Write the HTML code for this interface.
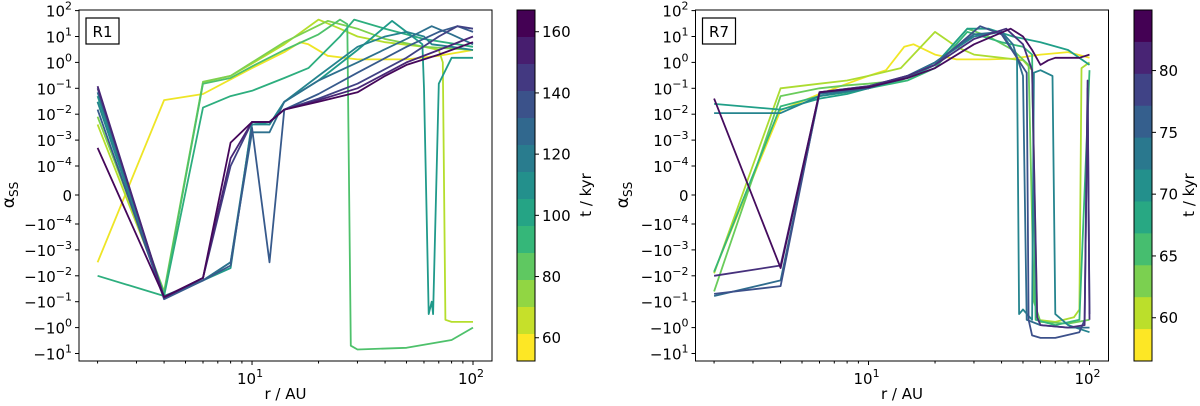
<!DOCTYPE html>
<html><head><meta charset="utf-8"><style>
body{margin:0;background:#fff}
svg{display:block;font-family:"DejaVu Sans","Liberation Sans",sans-serif}
</style></head><body>
<svg id="fig" width="1200" height="406" viewBox="0 0 1200 406"></svg>
<script>
// ---- data ----
const leftTimes = [55,65,75,85,95,105,115,125,135,145,155,165];
const leftR = [
 [2,4,6,10,14,16.5,18,22,30,50,70,100],
 [2,4,6,8,10,14,20,25,30,40,60,70,73,75,80,100],
 [2,4,6,8,10,14,22,30,40,60,100],
 [2,4,6,8,10,14,20,25,27,28,30,50,80,100],
 [2,4,6,8,10,14,18,25,29,40,60,100],
 [2,4,6,8,10,12,14,20,30,43,50,59,60,63,65,66,70,80,100],
 [2,4,6,8,10,12,14,20,30,40,50,60,65,80,100],
 [2,4,6,8,10,12,14,20,30,50,65,80,100],
 [2,4,6,8,10,12,14,20,30,50,70,85,100],
 [2,4,6,8,10,12,14,20,30,50,70,85,100],
 [2,4,6,8,10,12,14,20,30,50,70,100],
 [2,4,6,8,10,12,14,20,30,40,50,70,100]
];
const leftV = [
 [-3e-3,0.035,0.06,0.6,2.5,6,5,1.8,1.3,1.3,1.8,3],
 [4e-3,-0.05,0.17,0.3,0.9,5,45,20,10,6,4,3,1,-0.5,-0.6,-0.6],
 [8e-3,-0.04,0.18,0.3,1,6,40,20,8,4,3],
 [0.03,-0.05,0.15,0.25,0.7,3,12,45,30,-5,-7,-6,-3,-1],
 [-0.01,-0.06,0.018,0.05,0.08,0.25,0.6,10,45,20,8,4],
 [0.05,-0.06,-0.015,-5e-3,5e-3,4e-3,0.03,0.2,3,40,15,5,0.1,-0.3,-0.1,-0.3,0.15,1.5,1.5],
 [0.03,-0.07,-0.015,-3e-3,4e-3,4e-3,0.03,0.3,4,10,15,10,5,4,3],
 [0.07,-0.07,-0.015,-3e-3,2e-3,2e-3,0.03,0.2,1,8,25,12,5],
 [0.015,-0.08,-0.015,-4e-3,3e-3,-3e-3,0.015,0.06,0.4,4,15,25,15],
 [0.1,-0.07,-0.012,1e-4,5e-3,5e-3,0.015,0.04,0.15,1.5,10,25,20],
 [0.12,-0.07,-0.012,2e-4,5e-3,5e-3,0.015,0.035,0.1,1,3,10],
 [5e-4,-0.065,-0.012,8e-4,5e-3,5e-3,0.015,0.03,0.07,0.3,0.8,2,6]
];
const rightTimes = [57,60,63,66,69,72,75,78,81,84];
const rightR = [
 [2,4,6,8,10,12,14.5,16,20,25,35,45,60,80,100],
 [2,4,6,8,10,14,20,25,30,40,50,55,58,70,85,90,92,100],
 [2,4,6,8,10,14,20,28,35,45,53,56,60,80,100],
 [2,4,6,8,10,15,20,28,40,50,55,57,70,90,100],
 [2,4,6,8,10,15,20,28,35,45,60,80,100],
 [2,4,6,10,15,20,30,40,47,48,50,55,56,60,68,70,80,100],
 [2,4,6,10,15,20,30,40,45,50,52,60,80,100],
 [2,4,6,10,15,20,32,40,52,53,55,60,70,90,95,98,100],
 [2,4,6,10,15,20,30,42,50,55,58,60,80,95,98,100],
 [2,4,6,10,15,20,30,44,50,55,60,65,70,80,90,100]
];
const rightV = [
 [-7e-3,0.014,0.06,0.15,0.3,0.5,4,5,2,1.3,1.3,1.4,2,2.5,1.5],
 [-8e-3,0.1,0.15,0.2,0.3,0.6,15,4,2,1.5,1.2,0.5,-0.5,-0.6,-0.4,-0.2,0.6,1],
 [-0.04,0.05,0.1,0.13,0.15,0.2,0.8,20,10,3,0.8,-0.1,-0.6,-0.7,-0.5],
 [-7e-3,0.02,0.05,0.07,0.1,0.2,0.6,15,6,4,2,-0.5,-0.8,-0.5,0.5],
 [0.025,0.015,0.04,0.06,0.1,0.25,0.8,20,20,10,6,3,0.8],
 [0.011,0.011,0.05,0.1,0.3,1,10,15,1.5,-0.3,-0.2,-0.5,0.4,0.5,0.3,-0.3,-0.8,-1.5],
 [-0.06,-0.015,0.06,0.1,0.3,1,12,15,5,0.3,-0.5,-0.8,-1,-1],
 [-0.05,-0.025,0.07,0.12,0.3,0.8,25,12,0.4,-0.5,-2,-2.5,-2.5,-1.5,-0.5,0.1,-0.3],
 [-0.01,-4e-3,0.07,0.12,0.3,0.8,8,20,5,0.5,-0.4,-0.8,-1,-0.8,0.2,-0.5],
 [0.04,-5e-3,0.07,0.11,0.25,0.6,5,20,10,3,0.8,1.2,1.5,1.5,1.5,2]
];
const yTickVals = [100,10,1,0.1,0.01,1e-3,1e-4,0,-1e-4,-1e-3,-1e-2,-0.1,-1,-10];
const yTickExp = ["2","1","0","−1","−2","−3","−4","","−4","−3","−2","−1","0","1"];
const leftCbTicks = [60,80,100,120,140,160];
const rightCbTicks = [60,65,70,75,80];

// ---- helpers ----
const NS="http://www.w3.org/2000/svg";
const svg=document.getElementById('fig');
function mk(tag,attrs,parent){const e=document.createElementNS(NS,tag);for(const k in attrs)e.setAttribute(k,attrs[k]);(parent||svg).appendChild(e);return e;}
const TOP=10,BOT=361;
function yScale(v){const a=Math.abs(v);let d=a<=1e-4?a/1e-4*29:29+(Math.log10(a)+4)*25.9;return 195-Math.sign(v)*d;}
const VIR=[[68,1,84],[72,40,120],[62,74,137],[49,104,142],[38,130,142],[31,158,137],[53,183,121],[109,205,89],[180,222,44],[253,231,37]];
function viridis(t){t=Math.max(0,Math.min(1,t));const p=t*(VIR.length-1),i=Math.min(Math.floor(p),VIR.length-2),f=p-i;const c=VIR[i].map((a,k)=>Math.round(a+(VIR[i+1][k]-a)*f));return `rgb(${c[0]},${c[1]},${c[2]})`;}

function panel(p){
  const L=p.left,W=413,R=L+W;
  const xs=r=>L+(Math.log10(r)-0.217)/(2.086-0.217)*W;
  const g=mk('g',{});
  
  
  const lg=mk('g',{'clip-path':`url(#clip-${p.id})`},g);
  const cp=mk('clipPath',{id:'clip-'+p.id},g);mk('rect',{x:L,y:TOP,width:W,height:BOT-TOP},cp);
  p.times.forEach((t,i)=>{
    const pts=p.rs[i].map((r,j)=>xs(r).toFixed(1)+','+yScale(p.vs[i][j]).toFixed(1)).join(' ');
    const c=viridis((p.tmax-t)/(p.tmax-p.tmin));
    const pl=mk('polyline',{points:pts,fill:'none',stroke:c,'stroke-width':1.8,'stroke-linejoin':'round'},lg);
    
    
  });
  const fr=mk('rect',{x:L,y:TOP,width:W,height:BOT-TOP,fill:'none',stroke:'#000','stroke-width':1},g);
  
  
  yTickVals.forEach((v,i)=>{
    const y=yScale(v);
    mk('line',{x1:L-4,x2:L,y1:y,y2:y,stroke:'#000'},g);
    const tx=mk('text',{x:L-7,y:y+6,'text-anchor':'end','font-size':15},g);
    
    
    if(v===0){tx.textContent='0';}
    else{tx.textContent=(v<0?'−':'')+'10';const s=mk('tspan',{dy:-7,'font-size':11},tx);s.textContent=yTickExp[i];}
  });
  [1,2].forEach(e=>{const x=xs(Math.pow(10,e));mk('line',{x1:x,x2:x,y1:BOT,y2:BOT+4,stroke:'#000'},g);
    const tx=mk('text',{x:x-2,y:BOT+23,'text-anchor':'middle','font-size':15},g);
    
    
    tx.textContent='10';const s=mk('tspan',{dy:-7,'font-size':11},tx);s.textContent=String(e);});
  [2,3,4,5,6,7,8,9,20,30,40,50,60,70,80,90].forEach(r=>{const x=xs(r);mk('line',{x1:x,x2:x,y1:BOT,y2:BOT+2.5,stroke:'#000'},g);});
  const xl=mk('text',{x:L+W/2,y:399,'text-anchor':'middle','font-size':15},g);
  xl.textContent='r / AU';
  
  
  const yl=mk('text',{x:0,y:0,'text-anchor':'middle','font-size':17,transform:`translate(${p.ylabX},195) rotate(-90)`},g);
  yl.textContent='α';const sb=mk('tspan',{dy:4,'font-size':12},yl);sb.textContent='SS';
  
  
  const bx=mk('rect',{x:L+7,y:18,width:33,height:26,fill:'#fff',stroke:'#000','stroke-width':1.2},g);
  
  
  const bt=mk('text',{x:L+23.5,y:37,'text-anchor':'middle','font-size':15},g);bt.textContent=p.label;
  
  
  const cb=mk('g',{},g);
  
  
  const cx=p.cbX,cw=18,H=BOT-TOP;
  for(let k=0;k<p.nb;k++){const y0=TOP+H*k/p.nb;mk('rect',{x:cx,y:y0,width:cw,height:H/p.nb+0.5,fill:viridis(k/(p.nb-1))},cb);}
  mk('rect',{x:cx,y:TOP,width:cw,height:H,fill:'none',stroke:'#000','stroke-width':1},cb);
  const cy=t=>BOT-(t-p.tmin)/(p.tmax-p.tmin)*H;
  p.cbTicks.forEach(t=>{const y=cy(t);mk('line',{x1:cx+cw,x2:cx+cw+4,y1:y,y2:y,stroke:'#000'},cb);
    const tx=mk('text',{x:cx+cw+7,y:y+5.5,'font-size':15},cb);tx.textContent=String(t);
    
    });
  const ct=mk('text',{x:0,y:0,'text-anchor':'middle','font-size':15,transform:`translate(${p.cbTitleX},195) rotate(-90)`},cb);
  ct.textContent='t / kyr';
  
  
}
panel({id:'l',name:'panel-r1',left:79,times:leftTimes,rs:leftR,vs:leftV,tmin:52.4,tmax:167.1,cbX:517,cbTicks:leftCbTicks,nb:13,label:'R1',ylabX:14,cbTitleX:591});
panel({id:'r',name:'panel-r7',left:695.5,times:rightTimes,rs:rightR,vs:rightV,tmin:56.5,tmax:84.9,cbX:1134,cbTicks:rightCbTicks,nb:11,label:'R7',ylabX:628,cbTitleX:1194});
</script>
</body></html>
